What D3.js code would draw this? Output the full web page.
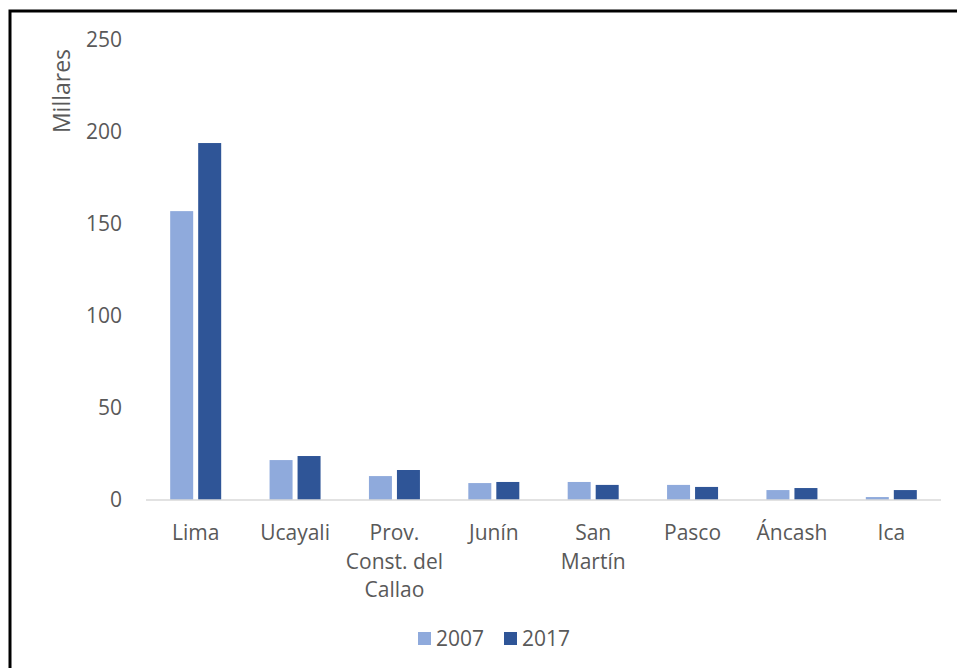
<!DOCTYPE html>
<html>
<head>
<meta charset="utf-8">
<script src="https://cdn.jsdelivr.net/npm/d3@7"></script>
<style>
  body { margin: 0; background: #fff; }
  text { font-family: "Open Sans", "Noto Sans", sans-serif; fill: #595959; }
</style>
</head>
<body>
<svg id="chart" width="957" height="668"></svg>
<script>
// categorías y valores (millares)
let categories = [["Lima"], ["Ucayali"], ["Prov.", "Const. del", "Callao"], ["Junín"], ["San", "Martín"], ["Pasco"], ["Áncash"], ["Ica"]];
let v2007 = [157, 21.7, 13.0, 9.2, 9.8, 8.2, 5.4, 1.6];
let v2017 = [194, 23.9, 16.3, 9.8, 8.2, 7.1, 6.5, 5.4];
let series = ["2007", "2017"];
let colors = ["#8FAADC", "#2F5597"];
let yTicks = [0, 50, 100, 150, 200, 250];

let svg = d3.select("#chart");

// marco
svg.append("rect")
  .attr("x", 10).attr("y", 11)
  .attr("width", 960).attr("height", 680)
  .attr("fill", "none")
  .attr("stroke", "#000")
  .attr("stroke-width", 3);

let xScale = d3.scaleBand()
  .domain(d3.range(categories.length))
  .range([146, 941]);

let yScale = d3.scaleLinear()
  .domain([0, 250])
  .range([500, 40]);

let barW = 23, gap = 5;

let groups = svg.selectAll("g.cat")
  .data(categories)
  .enter()
  .append("g")
  .attr("class", "cat");

[v2007, v2017].forEach(function(vals, s){
  svg.selectAll("rect.s" + s)
    .data(vals)
    .enter()
    .append("rect")
    .attr("class", "s" + s)
    .attr("x", function(d, i){
      let c = xScale(i) + xScale.bandwidth() / 2;
      return s === 0 ? c - gap / 2 - barW : c + gap / 2;
    })
    .attr("y", function(d){ return yScale(d); })
    .attr("width", barW)
    .attr("height", function(d){ return yScale(0) - yScale(d); })
    .attr("fill", colors[s]);
});

// eje x
svg.append("line")
  .attr("x1", 146).attr("x2", 941)
  .attr("y1", yScale(0)).attr("y2", yScale(0))
  .attr("stroke", "#D9D9D9")
  .attr("stroke-width", 1.5);

// etiquetas eje y
svg.selectAll("text.ytick")
  .data(yTicks)
  .enter()
  .append("text")
  .attr("class", "ytick")
  .attr("x", 122)
  .attr("y", function(d){ return yScale(d); })
  .attr("dy", "0.35em")
  .attr("text-anchor", "end")
  .style("font-size", "21px")
  .text(function(d){ return d; });

svg.append("text")
  .attr("transform", "translate(70, 91) rotate(-90)")
  .attr("text-anchor", "middle")
  .style("font-size", "23px")
  .text("Millares");

// etiquetas eje x
groups.append("text")
  .attr("text-anchor", "middle")
  .style("font-size", "21px")
  .attr("transform", function(d, i){
    return "translate(" + (xScale(i) + xScale.bandwidth() / 2) + ", 540)";
  })
  .selectAll("tspan")
  .data(function(d){ return d; })
  .enter()
  .append("tspan")
  .attr("x", 0)
  .attr("y", function(d, i){ return i * 28.5; })
  .text(function(d){ return d; });

// leyenda
let legendX = [418, 504];
series.forEach(function(name, i){
  svg.append("rect")
    .attr("x", legendX[i]).attr("y", 632)
    .attr("width", 13).attr("height", 13)
    .attr("fill", colors[i]);
  svg.append("text")
    .attr("x", legendX[i] + 18)
    .attr("y", 639)
    .attr("dy", "0.35em")
    .style("font-size", "21px")
    .text(name);
});
</script>
</body>
</html>
